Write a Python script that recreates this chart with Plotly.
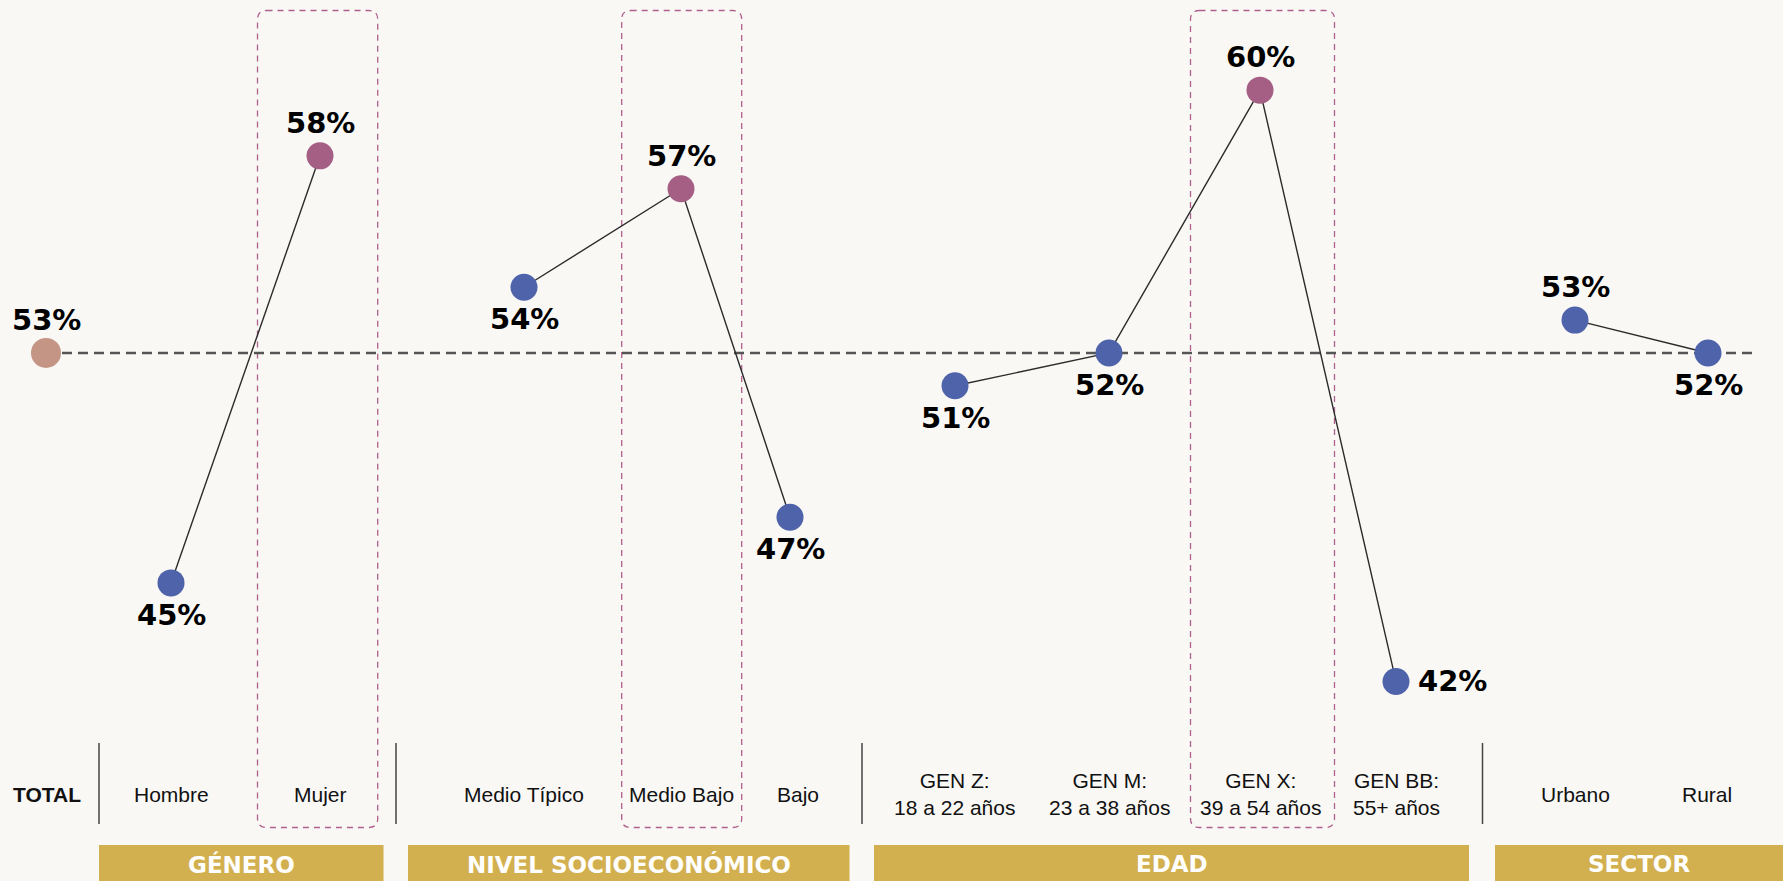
import plotly.graph_objects as go

# ---------------- data ----------------
categories = ["TOTAL", "Hombre", "Mujer", "Medio Típico", "Medio Bajo", "Bajo",
              "GEN Z:<br>18 a 22 años", "GEN M:<br>23 a 38 años",
              "GEN X:<br>39 a 54 años", "GEN BB:<br>55+ años", "Urbano", "Rural"]
values = [52, 45, 58, 54, 57, 47, 51, 52, 60, 42, 53, 52]
value_labels = ["53%", "45%", "58%", "54%", "57%", "47%", "51%", "52%", "60%", "42%", "53%", "52%"]
groups = ["TOTAL", "GÉNERO", "GÉNERO",
          "NIVEL SOCIOECONÓMICO", "NIVEL SOCIOECONÓMICO", "NIVEL SOCIOECONÓMICO",
          "EDAD", "EDAD", "EDAD", "EDAD", "SECTOR", "SECTOR"]
group_names = ["GÉNERO", "NIVEL SOCIOECONÓMICO", "EDAD", "SECTOR"]
highlighted = ["Mujer", "Medio Bajo", "GEN X:<br>39 a 54 años"]

# ---------------- layout / style ----------------
W, H = 1783, 881
BG = "#F9F8F5"
BLUE = "#4E63AA"
PURPLE = "#A55E84"
TOTAL_C = "#C49584"
GOLD = "#D3B04F"
BOX_C = "#B0608C"

slot_x = [46, 171, 320, 524, 681, 790, 955, 1109, 1260, 1396, 1575, 1708]
cat_label_x = [47, 171, 320, 524, 681, 798, 954, 1109, 1260, 1396, 1575, 1707]
label_pos = ["top", "bottom", "top", "bottom", "top", "bottom",
             "bottom", "bottom", "top", "right", "top", "bottom"]
group_bar_x = {"GÉNERO": (99, 383.5), "NIVEL SOCIOECONÓMICO": (408, 849.5),
               "EDAD": (874, 1469), "SECTOR": (1495, 1783)}
separators_x = [99, 396, 862, 1482.5]
box_x = {"Mujer": (257.5, 377.7), "Medio Bajo": (621.7, 741.7),
         "GEN X:<br>39 a 54 años": (1190.5, 1334.5)}
ref_line_end = 1755

# y scale: pixel = 582.9 - (v-45)*32.85
k = 32.85
y_top = 45 + 582.9 / k
y_bot = y_top - H / k


def py(px):
    return 1 - px / H


fig = go.Figure()

# reference dashed line at total
fig.add_trace(go.Scatter(x=[slot_x[0], ref_line_end], y=[values[0], values[0]],
                         mode="lines", line=dict(color="#555555", width=2.5, dash="10px,6px"),
                         hoverinfo="skip", showlegend=False))

# connecting lines per group
for g in group_names:
    idx = [i for i, gg in enumerate(groups) if gg == g]
    fig.add_trace(go.Scatter(x=[slot_x[i] for i in idx], y=[values[i] for i in idx],
                             mode="lines", line=dict(color="#2b2b2b", width=1.4),
                             hoverinfo="skip", showlegend=False))

# markers
colors = []
sizes = []
for c, g in zip(categories, groups):
    if g == "TOTAL":
        colors.append(TOTAL_C); sizes.append(30)
    elif c in highlighted:
        colors.append(PURPLE); sizes.append(27)
    else:
        colors.append(BLUE); sizes.append(27)
fig.add_trace(go.Scatter(x=slot_x, y=values, mode="markers",
                         marker=dict(color=colors, size=sizes, opacity=1, line=dict(width=0)),
                         opacity=1, hoverinfo="skip", showlegend=False))

annotations = []
# value labels
for i, (v, t, pos) in enumerate(zip(values, value_labels, label_pos)):
    a = dict(x=slot_x[i], y=v, xref="x", yref="y", text=t, showarrow=False,
             font=dict(family="DejaVu Sans", size=29, color="#000", weight="bold"))
    if pos == "top":
        a.update(yshift=33, xanchor="center", yanchor="middle")
    elif pos == "bottom":
        a.update(yshift=-32, xanchor="center", yanchor="middle")
    else:
        a.update(xshift=20, xanchor="left", yanchor="middle")
    annotations.append(a)

# category labels
for i, c in enumerate(categories):
    is_total = groups[i] == "TOTAL"
    annotations.append(dict(x=cat_label_x[i], y=py(794), xref="x", yref="paper",
                            text=c, showarrow=False, xanchor="center", yanchor="middle",
                            font=dict(family="Liberation Sans, Arial", size=21,
                                      color="#111", weight="bold" if is_total else "normal")))

shapes = []
# group bars
for g in group_names:
    x0, x1 = group_bar_x[g]
    shapes.append(dict(type="rect", xref="x", yref="paper", x0=x0, x1=x1,
                       y0=py(881), y1=py(845), fillcolor=GOLD, line=dict(width=0), layer="below"))
    annotations.append(dict(x=(x0 + x1) / 2, y=py(864), xref="x", yref="paper", text=g,
                            showarrow=False, xanchor="center", yanchor="middle",
                            font=dict(family="DejaVu Sans", size=23,
                                      color="#FFFFFF", weight="bold")))

# separators
for sx in separators_x:
    shapes.append(dict(type="line", xref="x", yref="paper", x0=sx, x1=sx,
                       y0=py(743), y1=py(824), line=dict(color="#444", width=1.5)))

# dashed highlight boxes with rounded corners
r = 9
top_px, bot_px = 10.5, 827.5
for c in highlighted:
    x0, x1 = box_x[c]
    path = (f"M {x0 + r},{py(top_px)} L {x1 - r},{py(top_px)} "
            f"Q {x1},{py(top_px)} {x1},{py(top_px + r)} "
            f"L {x1},{py(bot_px - r)} Q {x1},{py(bot_px)} {x1 - r},{py(bot_px)} "
            f"L {x0 + r},{py(bot_px)} Q {x0},{py(bot_px)} {x0},{py(bot_px - r)} "
            f"L {x0},{py(top_px + r)} Q {x0},{py(top_px)} {x0 + r},{py(top_px)} Z")
    shapes.append(dict(type="path", xref="x", yref="paper", path=path,
                       line=dict(color=BOX_C, width=1.3, dash="6px,5px"), layer="below"))

fig.update_layout(
    width=W, height=H, margin=dict(l=0, r=0, t=0, b=0),
    paper_bgcolor=BG, plot_bgcolor=BG,
    xaxis=dict(range=[0, W], visible=False, fixedrange=True),
    yaxis=dict(range=[y_bot, y_top], visible=False, fixedrange=True),
    shapes=shapes, annotations=annotations, showlegend=False,
)

fig.write_html("out.html", config={"displayModeBar": False},
               post_script="document.body.style.margin='0';document.body.style.overflow='hidden';")
